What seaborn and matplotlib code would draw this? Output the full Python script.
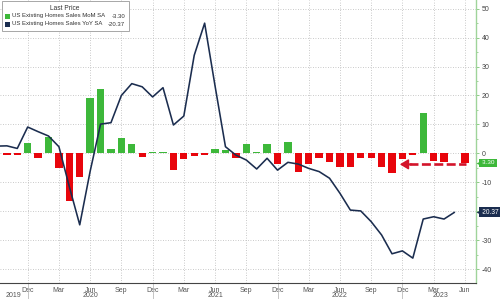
import matplotlib
matplotlib.use("Agg")
import matplotlib.pyplot as plt
import matplotlib.transforms as mtransforms
from matplotlib.patches import Rectangle
from matplotlib.ticker import MultipleLocator, FixedLocator, FuncFormatter
import numpy as np
import pandas as pd
import seaborn as sns

# ---------------- data ----------------
# month index 0 = Sep 2019
mom_months = list(range(1, 46))          # Oct 2019 .. Jun 2023
mom_values = [-0.5, -0.6, 3.6, -1.7, 5.5, -5.0, -16.3, -8.1, 19.2, 22.4,
              1.4, 5.3, 3.2, -1.4, 0.4, 0.6, -5.8, -2.1, -0.8, -0.4,
              1.5, 1.2, -1.6, 3.2, 0.4, 3.1, -3.7, 3.8, -6.3, -3.7,
              -1.7, -2.9, -4.6, -4.6, -1.7, -1.6, -4.8, -6.9, -2.0, -0.5,
              13.8, -2.6, -2.9, 0.2, -3.3]
yoy_months = list(range(0, 45))          # Sep 2019 .. May 2023
yoy_values = [2.5, 2.6, 1.7, 9.1, 7.5, 6.0, 2.3, -11.5, -24.7, -6.2,
              10.1, 10.6, 20.0, 24.1, 23.0, 19.5, 22.7, 9.8, 12.9, 33.9,
              45.0, 23.3, 2.3, -0.6, -2.3, -5.4, -1.7, -5.8, -3.1, -3.7,
              -5.2, -6.3, -8.6, -13.8, -19.6, -19.9, -23.6, -28.2, -34.7, -33.7,
              -36.2, -22.7, -21.9, -22.7, -20.37]
quarter_ticks = list(range(3, 46, 3))
quarter_labels = (["Dec", "Mar", "Jun", "Sep"] * 4)[:len(quarter_ticks)]
year_labels = ["2019", "2020", "2021", "2022", "2023"]
year_pos = [1.6, 9, 21, 33, 42.7]
series_names = ["US Existing Homes Sales MoM SA", "US Existing Homes Sales YoY SA"]
last_values = ["-3.30", "-20.37"]

GREEN = "#3db83a"
RED = "#e8050c"
NAVY = "#1b2d4f"
ARROW = "#d3142b"

sns.set_style("white")
plt.rcParams["font.family"] = ["Liberation Sans", "DejaVu Sans"]

df_bar = pd.DataFrame({"m": mom_months, "v": mom_values})
df_bar["sign"] = np.where(df_bar["v"] >= 0, "up", "down")
df_line = pd.DataFrame({"m": yoy_months, "v": yoy_values})

fig = plt.figure(figsize=(5, 2.99), dpi=100)
ax = fig.add_axes([0, 1 - 283 / 299, 476 / 500, 283 / 299])

sns.barplot(data=df_bar, x="m", y="v", hue="sign",
            palette={"up": GREEN, "down": RED}, native_scale=True,
            dodge=False, width=0.7, saturation=1, errorbar=None,
            legend=False, ax=ax, zorder=3, linewidth=0)
sns.lineplot(data=df_line, x="m", y="v", color=NAVY, lw=1.15, ax=ax, zorder=4)

ax.set_xlim(0.34, 46.07)
ax.set_ylim(-44.8, 53.0)
ax.set_xlabel("")
ax.set_ylabel("")

# axes styling
for s in ["left", "top"]:
    ax.spines[s].set_visible(False)
ax.spines["right"].set_color("#9fd49a")
ax.spines["right"].set_linewidth(1.0)
ax.spines["bottom"].set_color("#444444")
ax.spines["bottom"].set_linewidth(0.8)

ax.yaxis.tick_right()
ax.yaxis.set_major_locator(MultipleLocator(10))
ax.yaxis.set_minor_locator(MultipleLocator(5))
# the -20 label is hidden behind the YoY value tag in the reference
ax.yaxis.set_major_formatter(FuncFormatter(
    lambda v, p: "" if abs(v + 20) < 1e-6 else f"{v:.0f}"))
ax.tick_params(axis="y", which="major", length=2.5, width=0.6, color="#7cc474",
               labelsize=5, labelcolor="#444444", pad=1.5)
ax.tick_params(axis="y", which="minor", length=1.5, width=0.5, color="#7cc474")

ax.xaxis.set_major_locator(FixedLocator(quarter_ticks))
ax.set_xticklabels(quarter_labels)
ax.xaxis.set_minor_locator(MultipleLocator(1))
ax.tick_params(axis="x", which="major", length=2.5, width=0.6, color="#444444",
               labelsize=5, labelcolor="#555555", pad=0.3)
ax.tick_params(axis="x", which="minor", length=1.6, width=0.5, color="#444444")

ax.grid(True, which="major", axis="both", linestyle=(0, (1, 2)),
        color="#b8b8b8", lw=0.6, zorder=0)
ax.set_axisbelow(True)

# year labels and separators
trans = mtransforms.blended_transform_factory(ax.transData, ax.transAxes)
for lab, p in zip(year_labels, year_pos):
    ax.text(p, -0.0335, lab, transform=trans, ha="center", va="top",
            fontsize=5, color="#555555", clip_on=False)
for p in [3, 15, 27, 39]:
    ax.plot([p, p], [0, -0.06], transform=trans, color="#bbbbbb", lw=0.6,
            clip_on=False)

# dashed arrow pointing at the latest MoM value
ax.plot([39.6, 45.1], [-3.8, -3.8], color=ARROW, lw=1.9,
        linestyle=(0, (3.4, 1.3)), zorder=5, solid_capstyle="butt")
ax.annotate("", xy=(38.75, -3.8), xytext=(39.9, -3.8),
            arrowprops=dict(arrowstyle="-|>,head_length=0.5,head_width=0.3",
                            color=ARROW, lw=1.2, shrinkA=0, shrinkB=0),
            zorder=5)

# value tags on the right axis
ytrans = mtransforms.blended_transform_factory(ax.transAxes, ax.transData)
tag_vals = [-3.3, -20.37]
tag_colors = [GREEN, NAVY]
tag_sizes = [4.6, 4.8]
for val, txt, col, fs in zip(tag_vals, last_values, tag_colors, tag_sizes):
    ax.text(1.01, val, txt, transform=ytrans, ha="left", va="center",
            fontsize=fs, color="white", clip_on=False, zorder=6,
            bbox=dict(boxstyle="square,pad=0.25", fc=col, ec="none"))
    ax.plot([1.006], [val], transform=ytrans, marker="<", ms=4.4, color=col,
            mec="none", clip_on=False, zorder=6)

# legend box (top-left)
fig.patches.append(Rectangle((2 / 500, 1 - 31 / 299), 127 / 500, 30 / 299,
                             transform=fig.transFigure, fc="white",
                             ec="#999999", lw=0.6, zorder=10))
fig.text(65 / 500, 1 - 8.5 / 299, "Last Price", ha="center", va="center",
         fontsize=4.8, color="#333333", zorder=11)
for i, (name, val, col) in enumerate(zip(series_names, last_values, [GREEN, NAVY])):
    yy = 1 - (16 + 8 * i) / 299
    fig.patches.append(Rectangle((5 / 500, yy - 2.5 / 299), 5 / 500, 5 / 299,
                                 transform=fig.transFigure, fc=col, ec="none",
                                 zorder=11))
    fig.text(12.5 / 500, yy, name, ha="left", va="center", fontsize=4.3,
             color="#333333", zorder=11)
    fig.text(125 / 500, yy, val, ha="right", va="center", fontsize=4.3,
             color="#333333", zorder=11)

fig.savefig("out.png", dpi=100)
